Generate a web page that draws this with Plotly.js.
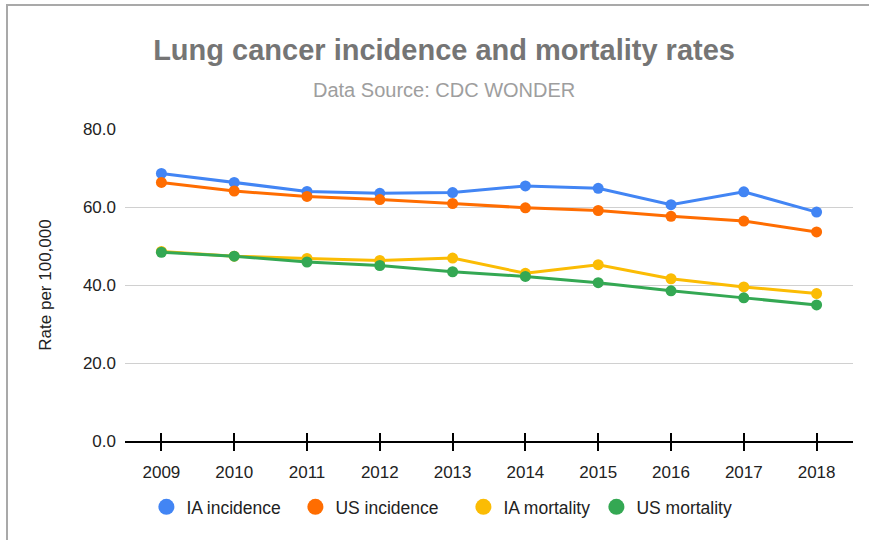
<!DOCTYPE html>
<html>
<head>
<meta charset="utf-8">
<script src="https://cdn.plot.ly/plotly-3.0.1.min.js"></script>
<style>
  html, body { margin: 0; padding: 0; background: #fff; }
  #wrap { position: relative; width: 869px; height: 540px; }
  #chart { position: absolute; left: 0; top: 0; width: 869px; height: 540px; }
  #frame { position: absolute; left: 6px; top: 4px; width: 863px; height: 536px;
           border-top: 2px solid #a9a9a9; border-left: 2px solid #a9a9a9; pointer-events: none; box-sizing: border-box; }
</style>
</head>
<body>
<div id="wrap"><div id="chart"></div><div id="frame"></div></div>
<script>
const years = [2009, 2010, 2011, 2012, 2013, 2014, 2015, 2016, 2017, 2018];
const iaIncidence = [68.6, 66.3, 64.0, 63.5, 63.7, 65.4, 64.8, 60.6, 63.9, 58.7];
const usIncidence = [66.3, 64.1, 62.7, 61.9, 60.9, 59.8, 59.1, 57.6, 56.4, 53.6];
const iaMortality = [48.6, 47.4, 46.8, 46.3, 46.9, 43.0, 45.2, 41.6, 39.5, 37.8];
const usMortality = [48.4, 47.4, 45.9, 45.0, 43.4, 42.2, 40.6, 38.5, 36.7, 34.9];
const seriesNames = ['IA incidence', 'US incidence', 'IA mortality', 'US mortality'];
const seriesColors = ['#4285F4', '#FF6D01', '#FBBC04', '#34A853'];
const yTicks = [0, 20, 40, 60, 80];

const allSeries = [iaIncidence, usIncidence, iaMortality, usMortality];
const FONT = 'Liberation Sans, Arial, sans-serif';
const legendIds = ['legend', 'legend2', 'legend3', 'legend4'];
const legendCentersPx = [167, 316, 484, 617];

const traces = [];
allSeries.forEach((vals, i) => {
  traces.push({
    x: years, y: vals, type: 'scatter', mode: 'lines+markers',
    name: seriesNames[i], showlegend: false,
    line: { color: seriesColors[i], width: 3 },
    marker: { color: seriesColors[i], size: 11 },
    hoverinfo: 'x+y+name'
  });
});
// legend entries (bigger circles), plotted on a hidden overlay scale
allSeries.forEach((vals, i) => {
  traces.push({
    x: years, y: vals, type: 'scatter', mode: 'markers',
    name: seriesNames[i], showlegend: true, legend: legendIds[i],
    xaxis: 'x2', yaxis: 'y2',
    marker: { color: seriesColors[i], size: 16 },
    hoverinfo: 'skip'
  });
});

const layout = {
  width: 869, height: 540,
  margin: { l: 125, r: 16, t: 129, b: 99 },
  paper_bgcolor: 'rgba(0,0,0,0)',
  plot_bgcolor: '#fff',
  font: { family: FONT, color: '#222', size: 17 },
  title: {
    text: '<b>Lung cancer incidence and mortality rates</b>',
    font: { family: FONT, size: 29, color: '#757575' },
    xref: 'container', x: 0.511, xanchor: 'center',
    yref: 'container', y: 1 - 50 / 540, yanchor: 'middle'
  },
  annotations: [{
    text: 'Data Source: CDC WONDER', showarrow: false,
    xref: 'paper', x: (444 - 125) / 728, xanchor: 'center',
    yref: 'paper', y: (441 - 90) / 312, yanchor: 'middle',
    font: { family: FONT, size: 20, color: '#9e9e9e' }
  }],
  xaxis: {
    range: [2008.5, 2018.5], tickvals: years, ticktext: years.map(String),
    showgrid: false, zeroline: false,
    showline: true, linecolor: '#000', linewidth: 1.5,
    ticks: 'outside', ticklen: 8, tickwidth: 1.5, tickcolor: '#000',
    ticklabelstandoff: 7,
    tickfont: { family: FONT, size: 17, color: '#222' },
    fixedrange: true
  },
  xaxis2: {
    range: [2008.5, 2018.5], tickvals: years, overlaying: 'x', anchor: 'y2',
    showticklabels: false, showgrid: false, zeroline: false, showline: false,
    ticks: 'inside', ticklen: 8, tickwidth: 1.5, tickcolor: '#000',
    fixedrange: true
  },
  yaxis: {
    range: [0, 80], tickvals: yTicks, tickformat: '.1f',
    showgrid: true, gridcolor: '#d0d0d0', gridwidth: 1,
    zeroline: false, showline: false, ticks: '',
    ticklabelstandoff: 8,
    tickfont: { family: FONT, size: 17, color: '#222' },
    title: { text: 'Rate per 100,000', font: { family: FONT, size: 17, color: '#222' }, standoff: 26 },
    fixedrange: true
  },
  yaxis2: {
    overlaying: 'y', range: [1000, 1001], visible: false, fixedrange: true
  },
  showlegend: true,
  hovermode: 'closest'
};
legendIds.forEach((id, i) => {
  layout[id] = {
    orientation: 'h', x: (legendCentersPx[i] - 20.6 - 125) / 728, xanchor: 'left',
    y: -0.2115, yanchor: 'middle',
    font: { family: FONT, size: 17.5, color: '#222' },
    itemsizing: 'trace', bgcolor: 'rgba(0,0,0,0)'
  };
});

Plotly.newPlot('chart', traces, layout, { displayModeBar: false, responsive: false });
</script>
</body>
</html>
